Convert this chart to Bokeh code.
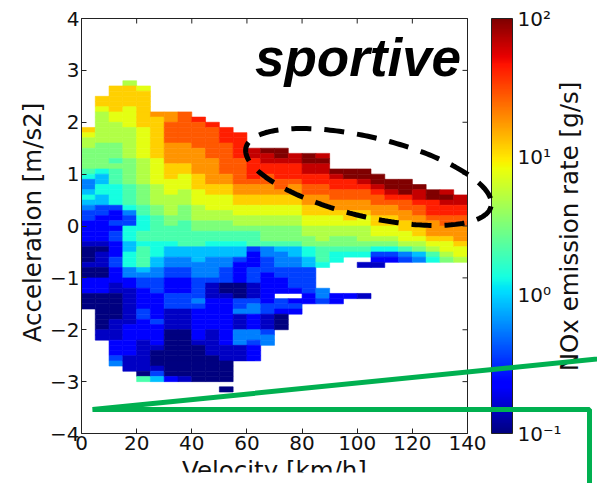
import math
import numpy as np
from bokeh.plotting import figure
from bokeh.models import (LogColorMapper, ColorBar, FixedTicker, LinearAxis, Label,
                          PolyAnnotation, BoxAnnotation, CustomJSTickFormatter,
                          ColumnDataSource, Range1d)
from bokeh.embed import file_html
from bokeh.resources import INLINE

# ---------------------------------------------------------------- data
speed_ticks = [0, 20, 40, 60, 80, 100, 120, 140]
accel_ticks = [-4, -3, -2, -1, 0, 1, 2, 3, 4]
cbar_ticks = [0.1, 1, 10, 100]

speed_bin = 5.0      # km/h per column
accel_bin = 0.1      # m/s2 per row
speed_left = [5 * i for i in range(28)]

# upper edge of the first (highest) occupied cell in every speed column
col_top = [1.9, 2.5, 2.7, 2.8, 2.7, 2.2, 2.2, 2.2, 2.1, 2.0, 1.9, 1.8, 1.5, 1.5,
           1.5, 1.4, 1.4, 1.4, 1.1, 1.1, 1.1, 1.0, 0.9, 0.9, 0.8, 0.7, 0.7, 0.6]

# NOx level of each cell, top to bottom; '.' = no data.
# level k corresponds to 10 ** (3 * k / 16 - 1) g/s (0 -> 0.1, G -> 100)
col_levels = [
    "BA998888" "76445654" "33222210" "00100222" "000",
    "BBA99999" "98888865" "56655332" "22221011" "10022200" "0000011",
    "BBBBBAA9" "99988878" "77766663" "22323322" "23322211" "00000111" "122234",
    "9BBBBAAA" "A9999998" "88887777" "64336665" "56664422" "11111112" "22222111",
    "ABBBBBBB" "AAAAAA99" "99988887" "76667767" "77754332" "22233222" "21111110" "7",
    "CBBBBBBB" "BAAAAA99" "99887777" "76665544" "33322222" "32222100" "0135",
    "CCDDDDCC" "CCBBBAAA" "99998877" "76554433" "22233311" "11000000" "0002",
    "DDDDDDCC" "CCBBAAA9" "99888777" "77554433" "22233311" "11000000" "0001",
    "EDDDDDCC" "CCCBBBAA" "A9998877" "75554443" "33343222" "22210000" "000",
    "EDDDDDDC" "CCCCBBAA" "A9988776" "55444431" "11222222" "11111000" "00",
    "EEEDDDDD" "DCCBBAAA" "99887765" "54433300" "12222222" "22111000" "0.0",
    "EEEEEDDD" "DDCCBBAA" "99877655" "32222000" "33411144" "4111",
    "FFEEEEDC" "CBBAA998" "77732223" "33111344" "22244322" "2",
    "GFFEEDDC" "CBBAA998" "88744333" "22222233" "111344",
    "GGFEEEDD" "CBBAA998" "88754443" "3222.332" "000",
    "FFEEEDCC" "BBAA9988" "87554433" "332.232",
    "GGFFEEDD" "CCBBAA99" "88665533" "33322",
    "FGFFEEDD" "CCBBAA99" "987776.." "..443",
    "GFEEDDCC" "BAA99887" "66......" "22",
    "GGEEDDCC" "BBA99887" "6.......2",
    "GGFEDDCC" "BAA99987" "6.1.....1",
    "GGFEDDCC" "BBAA9863" "21",
    "GGFEDCCBBAA98632",
    "GGGEDDCCBBAA9743",
    "GFFEDDCCBBA9854",
    "GGEEEDCCCBA976",
    "FGFEEDDCCBAA98",
    "FFEEDDCCCBAA9",
]
level_chars = "0123456789ABCDEFG"

x0, x1, y0, y1, nox = [], [], [], [], []
for left, top, levels in zip(speed_left, col_top, col_levels):
    for k, ch in enumerate(levels):
        if ch == ".":
            continue
        upper = round(top - k * accel_bin, 2)
        x0.append(left)
        x1.append(left + speed_bin)
        y0.append(round(upper - accel_bin, 2))
        y1.append(upper)
        nox.append(10 ** (3 * level_chars.index(ch) / 16 - 1))

source = ColumnDataSource(dict(x0=x0, x1=x1, y0=y0, y1=y1, nox=nox))


# ---------------------------------------------------------------- jet palette
def jet_palette(n=256):
    t = np.linspace(0, 1, n)
    r = np.interp(t, [0, 0.35, 0.66, 0.89, 1], [0, 0, 1, 1, 0.5])
    g = np.interp(t, [0, 0.125, 0.375, 0.64, 0.91, 1], [0, 0, 1, 1, 0, 0])
    b = np.interp(t, [0, 0.11, 0.34, 0.65, 1], [0.5, 1, 1, 0, 0])
    return ["#%02x%02x%02x" % (int(round(255 * a)), int(round(255 * c)), int(round(255 * d)))
            for a, c, d in zip(r, g, b)]


mapper = LogColorMapper(palette=jet_palette(), low=0.1, high=100)

# ---------------------------------------------------------------- geometry
W, H = 597, 483
LEFT, TOP, FW, FH = 81, 18, 386, 415          # heat-map box inside the canvas
XMIN, XMAX, YMIN, YMAX = 0, 140, -4, 4


def px_x(px):
    return XMIN + (px - LEFT) * (XMAX - XMIN) / FW


def px_y(py):
    return YMAX - (py - TOP) * (YMAX - YMIN) / FH


PX = (XMAX - XMIN) / FW      # data units per pixel, x
PY = (YMAX - YMIN) / FH      # data units per pixel, y

# the plotting frame spans the whole canvas so that labels, the colour bar
# and the call-out marks can sit anywhere on the page
p = figure(width=W, height=H, x_range=Range1d(px_x(0), px_x(W)), y_range=Range1d(px_y(H), px_y(0)),
           min_border=0, x_axis_location=None, y_axis_location=None,
           output_backend="svg", toolbar_location=None, tools="")
p.grid.visible = False
p.background_fill_color = "white"
p.border_fill_color = "white"
p.outline_line_color = None

p.quad(left="x0", right="x1", bottom="y0", top="y1", source=source,
       fill_color={"field": "nox", "transform": mapper},
       line_color={"field": "nox", "transform": mapper}, line_width=0.6)

AXIS_COLOR = "#222222"
TEXT_COLOR = "#111111"
TICK_FONT = "DejaVu Sans"

xax = LinearAxis(ticker=FixedTicker(ticks=speed_ticks), fixed_location=YMIN, bounds=(XMIN, XMAX))
yax = LinearAxis(ticker=FixedTicker(ticks=accel_ticks), fixed_location=XMIN, bounds=(YMIN, YMAX))
for ax in (xax, yax):
    ax.axis_line_color = AXIS_COLOR
    ax.axis_line_width = 1
    ax.major_tick_in = 5
    ax.major_tick_out = 0
    ax.major_tick_line_color = AXIS_COLOR
    ax.minor_tick_line_color = None
    ax.major_label_text_font = TICK_FONT
    ax.major_label_text_font_size = "20px"
    ax.major_label_text_color = TEXT_COLOR
xax.major_label_standoff = 2
yax.major_label_standoff = 2
yax.major_label_overrides = {t: ("\u2212%d" % -t if t < 0 else str(t)) for t in accel_ticks}
p.add_layout(xax, "below")
p.add_layout(yax, "left")

# top and right edges of the box with mirrored inner ticks
p.segment(x0=[XMIN, XMAX], y0=[YMAX, YMIN], x1=[XMAX, XMAX], y1=[YMAX, YMAX],
          line_color=AXIS_COLOR, line_width=1)
p.segment(x0=speed_ticks, y0=[YMAX] * len(speed_ticks), x1=speed_ticks,
          y1=[YMAX - 5 * PY] * len(speed_ticks), line_color=AXIS_COLOR, line_width=1)
p.segment(x0=[XMAX] * len(accel_ticks), y0=accel_ticks, x1=[XMAX - 5 * PX] * len(accel_ticks),
          y1=accel_ticks, line_color=AXIS_COLOR, line_width=1)

cbar = ColorBar(color_mapper=mapper, ticker=FixedTicker(ticks=cbar_ticks),
                formatter=CustomJSTickFormatter(code="""
                    const sup = {"-1": "\u207b\u00b9", "0": "\u2070", "1": "\u00b9", "2": "\u00b2"};
                    return "10" + sup[String(Math.round(Math.log10(tick)))];
                """),
                width=21, height=FH, padding=0, margin=0, location=(491, H - TOP - FH),
                label_standoff=5, major_tick_line_color=None, minor_tick_line_color=None,
                bar_line_color=AXIS_COLOR, bar_line_width=1,
                border_line_color=None, background_fill_color=None,
                major_label_text_font=TICK_FONT, major_label_text_font_size="20px",
                major_label_text_color=TEXT_COLOR)
p.add_layout(cbar)

LABEL_PX = 24.5
SHIFT = 0.32 * LABEL_PX      # baseline correction of the text box
p.add_layout(Label(x=px_x(40 - SHIFT), y=px_y(222), text="Acceleration [m/s2]", angle=math.pi / 2,
                   text_align="center", text_baseline="alphabetic", text_font=TICK_FONT,
                   text_font_size="%.1fpx" % LABEL_PX, text_color=TEXT_COLOR))
p.add_layout(Label(x=px_x(274), y=px_y(478 - SHIFT), text="Velocity [km/h]",
                   text_align="center", text_baseline="alphabetic", text_font=TICK_FONT,
                   text_font_size="%.1fpx" % LABEL_PX, text_color=TEXT_COLOR))
p.add_layout(Label(x=px_x(577 - SHIFT), y=px_y(226), text="NOx emission rate [g/s]", angle=math.pi / 2,
                   text_align="center", text_baseline="alphabetic", text_font=TICK_FONT,
                   text_font_size="%.1fpx" % LABEL_PX, text_color=TEXT_COLOR))

TAG_PX = 53
p.add_layout(Label(x=px_x(357.5), y=px_y(74 - 0.32 * TAG_PX), text="sportive", text_align="center",
                   text_baseline="alphabetic", text_font="Liberation Sans",
                   text_font_style="bold italic", text_font_size="%dpx" % TAG_PX, text_color="black"))

# dashed ellipse around the high-emission band
cx, cy, ea, eb, tilt = 368.0, 176.5, 126.0, 39.6, math.radians(13.5)
tt = np.linspace(0, 2 * np.pi, 241)
ex = cx + ea * np.cos(tt) * math.cos(tilt) - eb * np.sin(tt) * math.sin(tilt)
ey = cy + ea * np.cos(tt) * math.sin(tilt) + eb * np.sin(tt) * math.cos(tilt)
p.add_layout(PolyAnnotation(xs=[px_x(v) for v in ex], ys=[px_y(v) for v in ey],
                            fill_alpha=0, line_color="black", line_alpha=1, line_width=5,
                            line_dash="20 13", level="overlay"))

# page trimmed just below the axis title
p.add_layout(BoxAnnotation(left=px_x(-20), right=px_x(W + 20), top=px_y(472), bottom=px_y(H + 40),
                           fill_color="white", fill_alpha=1, line_color=None, level="overlay"))

# green call-out lines
gx = [700, 92, 589, 589]
gy = [348.2, 409, 409, 620]
p.add_layout(PolyAnnotation(xs=[px_x(v) for v in gx], ys=[px_y(v) for v in gy],
                            fill_alpha=0, line_color="#00b050", line_alpha=1, line_width=5,
                            level="overlay"))

with open("out.html", "w", encoding="utf-8") as fh:
    fh.write(file_html(p, INLINE))
